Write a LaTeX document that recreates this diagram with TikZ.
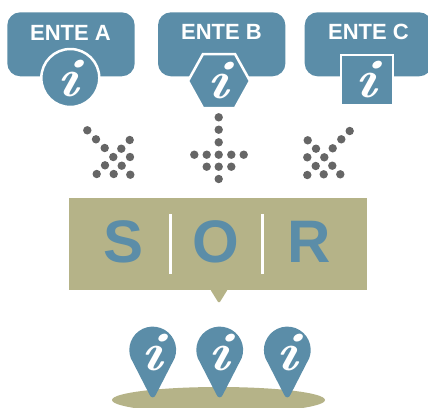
\documentclass[tikz,border=0pt]{standalone}
\usepackage{fontspec}
\setmainfont{Liberation Sans}
\newfontfamily\iconfont{Latin Modern Roman}
\def\entebox{(-63.7, -32) rectangle (63.7, 32)}
\def\hexagon{(-16, -27) -- (16, -27) -- (31, 0) -- (16, 27) -- (-16, 27) -- (-31, 0) -- cycle}
\def\pinshape{(22, 8) arc[start angle=20, end angle=-200, radius=23.4] -- (-3.5, 44) .. controls (-2, 48.5) and (2, 48.5) .. (3.5, 44) -- cycle}
\definecolor{ente blue}{HTML}{5B8DA8}
\definecolor{sor khaki}{HTML}{B5B388}
\definecolor{dot grey}{HTML}{666666}
\tikzset{
  filled/.style={fill=ente blue},
  ringed/.style={fill=ente blue, draw=white, line width=2.5pt},
  entelabel/.style={text=white, font=\bfseries\fontsize{22}{24}\selectfont, inner sep=0pt},
  sorlabel/.style={text=ente blue, font=\bfseries\fontsize{60}{64}\selectfont, inner sep=0pt},
  infolabel/.style={text=white, font=\iconfont\bfseries\itshape\fontsize{54}{56}\selectfont, inner sep=0pt, xscale=1.15, xslant=0.1},
  divider/.style={draw=white, line width=2.5pt},
  dotfill/.style={fill=dot grey}
}

\begin{document}
\begin{tikzpicture}[x=1pt, y=-1pt]
    \useasboundingbox (0, 0) rectangle (428, 407);
    % source boxes
    \foreach \name/\boxx in {A/71, B/221.7, C/368.4} {
      \fill[filled, rounded corners=13pt, shift={(\boxx, 44.3)}] \entebox;
    }
    \node[entelabel] (enteA) at (70.5, 33) {ENTE A};
    \node[entelabel] (enteB) at (221.5, 32) {ENTE B};
    \node[entelabel] (enteC) at (368.5, 32) {ENTE C};
    % icons
    \draw[ringed] (70.3, 78) circle (29pt);
    \draw[ringed, shift={(219, 81)}] \hexagon;
    \draw[ringed] (341, 55) rectangle (393, 105);
    \node[infolabel] (infoA) at (68.5, 79) {i};
    \node[infolabel] (infoB) at (218.5, 81) {i};
    \node[infolabel] (infoC) at (366.5, 80) {i};
    % dots
    \foreach \x/\y in {87.3/130.3, 96/139.3, 104.7/148, 113.3/157, 121.7/165.7, 130.3/174.7,
                       129.7/140, 121.3/148.7, 130/157, 105/165.3, 96.7/174, 113.7/174,
                       218.7/117.3, 218.7/129.7, 218.7/142.3, 218.7/154.7, 218.7/166.7, 218.7/179,
                       231.3/154.7, 243.7/154.7, 231.3/166.7, 194.3/154.7, 206.7/154.7, 206.7/166.7,
                       349.7/131, 341.3/139.3, 332.7/148.3, 324.3/157.3, 332.3/165.7, 340.3/174.3,
                       323.7/174.3, 307.3/175, 315.7/166, 307.3/157.3, 316/148.7, 307.7/140.3} {
      \fill[dotfill] (\x, \y) circle (4.2pt);
    }
    % sor panel
    \fill[sor khaki] (69, 198) rectangle (367, 290);
    \fill[sor khaki, rounded corners=1.5pt] (210, 289) -- (228, 289) -- (219, 303.5) -- cycle;
    \draw[divider] (170.7, 214) -- (170.7, 274);
    \draw[divider] (262.3, 214) -- (262.3, 274);
    \node[sorlabel] (sorS) at (123.3, 241.7) {S};
    \node[sorlabel] (sorO) at (215.8, 241.7) {O};
    \node[sorlabel] (sorR) at (309.2, 241.7) {R};
    % pins
    \fill[sor khaki] (218.5, 400) ellipse (106.5pt and 13pt);
    \foreach \name/\pinx in {one/152.7, two/219.7, three/287.3} {
      \fill[filled, shift={(\pinx, 350)}] \pinshape;
      \node[infolabel] (pin\name) at (\pinx, 353) {i};
    }
  \end{tikzpicture}
\end{document}
